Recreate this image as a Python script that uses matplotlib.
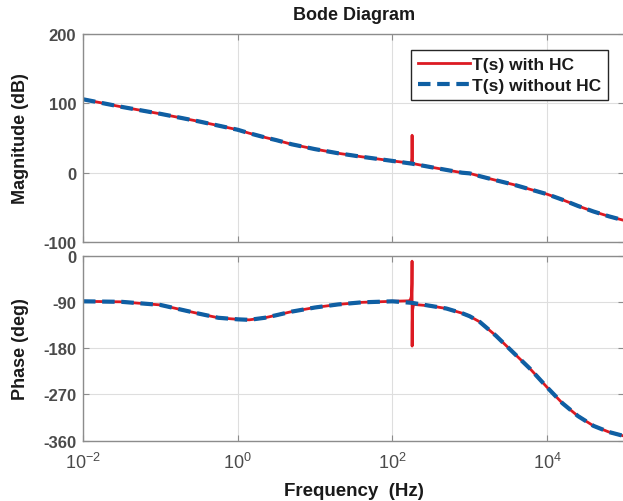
import matplotlib
matplotlib.use("Agg")
import matplotlib.pyplot as plt

plt.rcParams['font.family'] = ['Liberation Sans', 'DejaVu Sans']
plt.rcParams['mathtext.fontset'] = 'custom'
plt.rcParams['mathtext.rm'] = 'Liberation Sans'
plt.rcParams['mathtext.it'] = 'Liberation Sans'
plt.rcParams['mathtext.bf'] = 'Liberation Sans:bold'

# ---- data ----
freq_base = [0.01, 0.0316, 0.1, 0.316, 0.562, 1.0, 1.41, 2.24, 3.16, 5.0, 10.0, 20.0,
             40.0, 100.0, 180.0, 316.0, 500.0, 794.0, 1000.0, 1350.0, 2190.0,
             3630.0, 6030.0, 10000.0, 15800.0, 25100.0, 39800.0, 63100.0, 100000.0]
mag_base = [106, 95, 85, 74, 68, 62, 57, 51, 47, 41, 34, 28,
            23, 17, 13, 8, 4, 0, -1, -5, -11,
            -17, -24, -31, -39, -48, -56, -63, -69]
phase_base = [-89, -90, -96, -113, -121, -124, -125, -121, -116, -109, -101, -95,
              -91, -89, -92, -98, -103, -112, -118, -129, -156,
              -188, -220, -256, -287, -312, -331, -343, -351]

freq_hc = [0.01, 0.0316, 0.1, 0.316, 0.562, 1.0, 1.41, 2.24, 3.16, 5.0, 10.0, 20.0,
           40.0, 100.0, 165.0, 172.0, 177.0, 179.0, 179.8, 180.0, 180.2, 181.0,
           183.0, 188.0, 316.0, 500.0, 794.0, 1000.0, 1350.0, 2190.0,
           3630.0, 6030.0, 10000.0, 15800.0, 25100.0, 39800.0, 63100.0, 100000.0]
mag_hc = [106, 95, 85, 74, 68, 62, 57, 51, 47, 41, 34, 28,
          23, 17, 14, 14, 16, 24, 45, 54, 45, 24,
          15, 13, 8, 4, 0, -1, -5, -11,
          -17, -24, -31, -39, -48, -56, -63, -69]
phase_hc = [-89, -90, -96, -113, -121, -124, -125, -121, -116, -109, -101, -95,
            -91, -89, -88, -85, -78, -55, -11, -90, -176, -130,
            -105, -95, -98, -103, -112, -118, -129, -156,
            -188, -220, -256, -287, -312, -331, -343, -351]

xticks = [1e-2, 1e0, 1e2, 1e4]
xticklabels = [r'$10^{-2}$', r'$10^{0}$', r'$10^{2}$', r'$10^{4}$']
mag_ticks = [-100, 0, 100, 200]
phase_ticks = [-360, -270, -180, -90, 0]

label_hc = 'T(s) with HC'
label_nohc = 'T(s) without HC'

red = '#dc1a22'
blue = '#0f5fa3'
frame = '#8c8c8c'
txt = '#1a1a1a'
ticktxt = '#4a4a4a'

fig = plt.figure(figsize=(6.23, 5.02), dpi=100)
ax1 = fig.add_axes([0.1332, 0.516, 0.869, 0.414])
ax2 = fig.add_axes([0.1332, 0.120, 0.869, 0.369])

for ax in (ax1, ax2):
    ax.set_xscale('log')
    ax.set_xlim(1e-2, 1e5)
    ax.set_xticks(xticks)
    ax.minorticks_off()
    ax.grid(True, color='#dedede', linewidth=0.8)
    ax.set_axisbelow(True)
    for s in ax.spines.values():
        s.set_color(frame)
        s.set_linewidth(1.0)
    ax.tick_params(direction='in', length=4, color=frame, labelcolor=ticktxt,
                   top=True, right=True, which='both')
    ax.tick_params(axis='y', pad=5, labelsize=12)
    ax.tick_params(axis='x', pad=8, labelsize=13)

# magnitude
ax1.plot(freq_hc, mag_hc, color=red, linewidth=2.0, label=label_hc)
ax1.plot(freq_base, mag_base, color=blue, linewidth=3.0, linestyle=(0, (3, 1.6)),
         label=label_nohc)
ax1.set_ylim(-100, 200)
ax1.set_yticks(mag_ticks)
ax1.set_yticklabels([str(v) for v in mag_ticks], fontweight='bold')
ax1.set_xticklabels([])
ax1.set_ylabel('Magnitude (dB)', fontsize=13, fontweight='bold', color=txt)
ax1.yaxis.set_label_coords(-0.100, 0.5)
ax1.set_title('Bode Diagram', fontsize=13, fontweight='bold', color=txt, pad=11)
leg = ax1.legend(loc='upper right', bbox_to_anchor=(0.969, 0.923),
                 prop={'weight': 'bold', 'size': 12.5}, fancybox=False,
                 framealpha=1, edgecolor='#262626', borderpad=0.4,
                 handlelength=3.0, handletextpad=0.1, labelspacing=0.35,
                 borderaxespad=0.0)
leg.get_frame().set_linewidth(1.0)
for t in leg.get_texts():
    t.set_color(txt)

# phase
ax2.plot(freq_hc, phase_hc, color=red, linewidth=2.0)
ax2.plot(freq_base, phase_base, color=blue, linewidth=3.0, linestyle=(0, (3, 1.6)))
ax2.set_ylim(-360, 0)
ax2.set_yticks(phase_ticks)
ax2.set_yticklabels([str(v) for v in phase_ticks], fontweight='bold')
ax2.set_xticklabels(xticklabels)
ax2.set_ylabel('Phase (deg)', fontsize=13, fontweight='bold', color=txt)
ax2.yaxis.set_label_coords(-0.100, 0.5)
ax2.set_xlabel('Frequency  (Hz)', fontsize=13.5, fontweight='bold', color=txt)
ax2.xaxis.set_label_coords(0.5, -0.225)

fig.savefig('out.png', dpi=100)
